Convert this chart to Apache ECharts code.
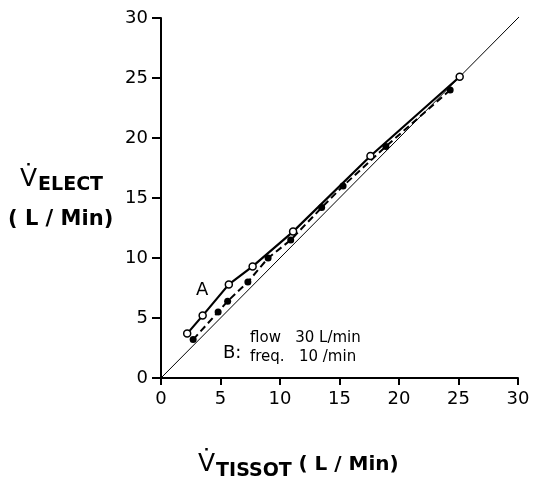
<!DOCTYPE html>
<html>
<head>
<meta charset="utf-8">
<script src="https://cdn.jsdelivr.net/npm/echarts@6/dist/echarts.min.js"></script>
<style>html,body{margin:0;padding:0;background:#fff;}#c{width:533px;height:485px;}</style>
</head>
<body>
<div id="c"></div>
<script>
var ticks = [0, 5, 10, 15, 20, 25, 30];
var seriesA = [[2.2,3.7],[3.5,5.2],[5.7,7.8],[7.7,9.3],[11.1,12.2],[17.6,18.5],[25.1,25.1]];
var seriesB = [[2.7,3.2],[4.8,5.5],[5.6,6.4],[7.3,8.0],[9.0,10.0],[10.9,11.5],[13.5,14.2],[15.3,16.0],[18.9,19.3],[24.3,24.0]];
var identity = [[0,0],[30.5,30.5]];

var chart = echarts.init(document.getElementById('c'), null, {renderer:'canvas'});
var font = 'DejaVu Sans';
chart.setOption({
  backgroundColor:'#fff',
  animation:false,
  grid:{left:161, right:15, top:18, bottom:107},
  xAxis:{type:'value', min:0, max:30, interval:5,
    axisLine:{lineStyle:{color:'#000', width:2}},
    axisTick:{inside:false, length:7, lineStyle:{color:'#000', width:2}},
    axisLabel:{color:'#000', fontFamily:font, fontSize:18, margin:12},
    splitLine:{show:false}},
  yAxis:{type:'value', min:0, max:30, interval:5,
    axisLine:{show:true, lineStyle:{color:'#000', width:2}},
    axisTick:{show:true, inside:false, length:9, lineStyle:{color:'#000', width:2}},
    axisLabel:{color:'#000', fontFamily:font, fontSize:18, margin:13},
    splitLine:{show:false}},
  series:[
    {type:'line', data:identity, clip:false, symbol:'none', silent:true,
      lineStyle:{color:'#000', width:1}},
    {type:'line', data:seriesB, symbol:'circle', symbolSize:7,
      itemStyle:{color:'#000'}, lineStyle:{color:'#000', width:2, type:[7,4]}},
    {type:'line', data:seriesA, symbol:'circle', symbolSize:7,
      itemStyle:{color:'#fff', borderColor:'#000', borderWidth:1.5},
      lineStyle:{color:'#000', width:2.2}}
  ],
  graphic:[
    {type:'text', left:20, top:167, style:{text:'{v|V̇}{s|ELECT}', rich:{v:{fontFamily:font, fontSize:25, fill:'#000'}, s:{fontFamily:font, fontSize:19, fontWeight:'bold', fill:'#000', padding:[12,0,0,1]}}}},
    {type:'text', left:8, top:209, style:{text:'( L / Min)', font:'bold 21px DejaVu Sans', fill:'#000'}},
    {type:'text', left:198, top:452, style:{text:'{v|V̇}{s|TISSOT}  {u|( L / Min)}', rich:{v:{fontFamily:font, fontSize:25, fill:'#000'}, s:{fontFamily:font, fontSize:19, fontWeight:'bold', fill:'#000', padding:[14,0,0,1]}, u:{fontFamily:font, fontSize:20, fontWeight:'bold', fill:'#000'}}}},
    {type:'text', left:196, top:281, style:{text:'A', font:'18px DejaVu Sans', fill:'#000'}},
    {type:'text', left:223, top:344, style:{text:'B:', font:'18px DejaVu Sans', fill:'#000'}},
    {type:'text', left:250, top:331, style:{text:'flow   30 L/min', font:'15px DejaVu Sans', fill:'#000'}},
    {type:'text', left:250, top:350, style:{text:'freq.   10 /min', font:'15px DejaVu Sans', fill:'#000'}}
  ]
});
</script>
</body>
</html>
